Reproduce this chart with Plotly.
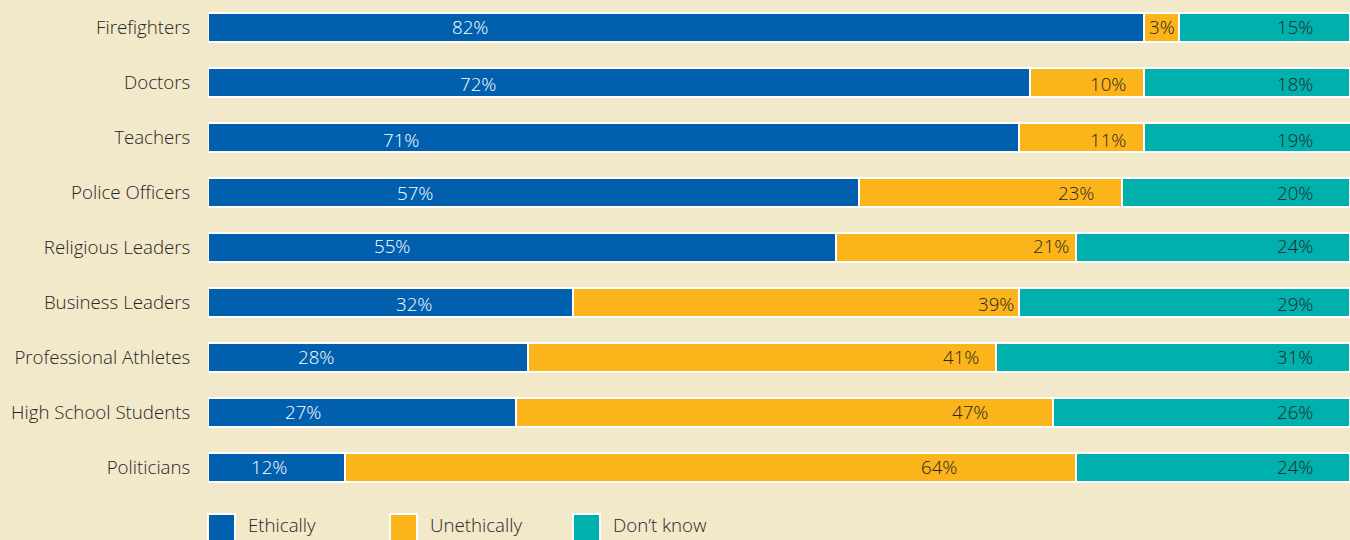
import plotly.graph_objects as go

categories = ["Firefighters", "Doctors", "Teachers", "Police Officers", "Religious Leaders",
              "Business Leaders", "Professional Athletes", "High School Students", "Politicians"]
ethically = [82, 72, 71, 57, 55, 32, 28, 27, 12]
unethically = [3, 10, 11, 23, 21, 39, 41, 47, 64]
dont_know = [15, 18, 19, 20, 24, 29, 31, 26, 24]
series_names = ["Ethically", "Unethically", "Don\u2019t know"]

# label placement (style only): x-centres in axis units
eth_label_x = [22.9, 23.6, 16.9, 18.1, 16.1, 18.0, 9.5, 8.3, 5.3]
une_label_x = [83.5, 78.8, 78.8, 76.0, 73.8, 69.0, 65.9, 66.7, 64.0]
dk_label_x = [95.2] * 9
label_yshift = [1, -1, -2, 0, 2, -1, 1, 1, 1]

BG = "#f2e8ca"
COLORS = ["#0060ae", "#fbb419", "#00b0ad"]
TEXT = "#262626"
FONT = "Open Sans"
W = 300
FS = 18.7

fig = go.Figure()
for name, vals, col in zip(series_names, [ethically, unethically, dont_know], COLORS):
    fig.add_trace(go.Bar(
        y=categories, x=vals, name=name, orientation="h",
        marker=dict(color=col, line=dict(color="white", width=2)),
        showlegend=False, hoverinfo="x+y",
    ))

annotations = []
for i, cat in enumerate(categories):
    for vals, xs, col in [(ethically, eth_label_x, "white"),
                          (unethically, une_label_x, TEXT),
                          (dont_know, dk_label_x, TEXT)]:
        annotations.append(dict(
            x=xs[i], y=cat, xref="x", yref="y", text=f"{vals[i]}%", yshift=label_yshift[i],
            showarrow=False, font=dict(family=FONT, size=FS, color=col, weight=W),
        ))

# manual legend (big squares)
plot_left, plot_w, plot_h = 208, 1142, 495
leg_x = [208, 390, 573]
shapes = []
for lx, name, col in zip(leg_x, series_names, COLORS):
    x0 = (lx - plot_left) / plot_w
    x1 = (lx + 27 - plot_left) / plot_w
    y0 = (plot_h - 541) / plot_h
    y1 = (plot_h - 514) / plot_h
    shapes.append(dict(type="rect", xref="paper", yref="paper", x0=x0, x1=x1, y0=y0, y1=y1,
                       fillcolor=col, line=dict(color="white", width=2)))
    annotations.append(dict(
        x=(lx + 38 - plot_left) / plot_w, y=(plot_h - 539) / plot_h, xref="paper", yref="paper",
        text=name, showarrow=False, xanchor="left", yanchor="bottom",
        font=dict(family=FONT, size=FS, color=TEXT, weight=W)))

fig.update_layout(
    barmode="stack",
    bargap=0.48,
    width=1350, height=540,
    margin=dict(l=208, r=0, t=0, b=45),
    paper_bgcolor=BG, plot_bgcolor=BG,
    font=dict(family=FONT, size=FS, color=TEXT, weight=W),
    xaxis=dict(range=[0, 100], showgrid=False, zeroline=False, showticklabels=False, fixedrange=True),
    yaxis=dict(autorange="reversed", showgrid=False, zeroline=False, ticks="outside",
               ticklen=13, tickcolor="rgba(0,0,0,0)",
               tickfont=dict(family=FONT, size=FS, color=TEXT, weight=W)),
    annotations=annotations,
    shapes=shapes,
)

fig.write_html("out.html")
